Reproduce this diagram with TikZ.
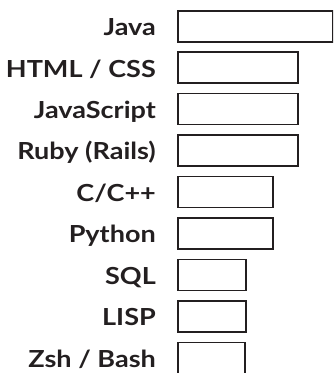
\documentclass[tikz,border=0pt]{standalone}
\usepackage{fontspec}
\setmainfont{Lato}[UprightFont=* Bold, FakeStretch=1.15]
\definecolor{ink}{HTML}{231F20}
\begin{document}
\begin{tikzpicture}[x=1pt,y=1pt,
  bar/.style={draw=ink,line width=1.5pt,minimum height=31pt,inner sep=0pt,anchor=west,fill=white},
  lbl/.style={text=ink,font=\fontsize{23.5}{26}\selectfont,inner sep=0pt,anchor=base east}]
\useasboundingbox (0,0) rectangle (333,-373);
\begin{scope}
\clip (0,0) rectangle (333,-373);
\foreach \i/\t/\r in {0/{Java}/333, 1/{HTML / CSS}/298, 2/{JavaScript}/298, 3/{Ruby (Rails)}/298, 4/{C/C++}/273, 5/{Python}/273, 6/{SQL}/246, 7/{LISP}/246, 8/{Zsh / Bash}/245}{
  \pgfmathsetmacro{\yc}{-(26.25+41.45*\i)}
  \pgfmathsetmacro{\w}{\r-0.75-177.45}
  \pgfmathsetmacro{\yb}{\yc-9.3}
  \node[bar,minimum width=\w pt] (b\i) at (177.45,\yc) {};
  \node[lbl] (t\i) at (156,\yb) {\t};
}
\end{scope}
\end{tikzpicture}
\end{document}
